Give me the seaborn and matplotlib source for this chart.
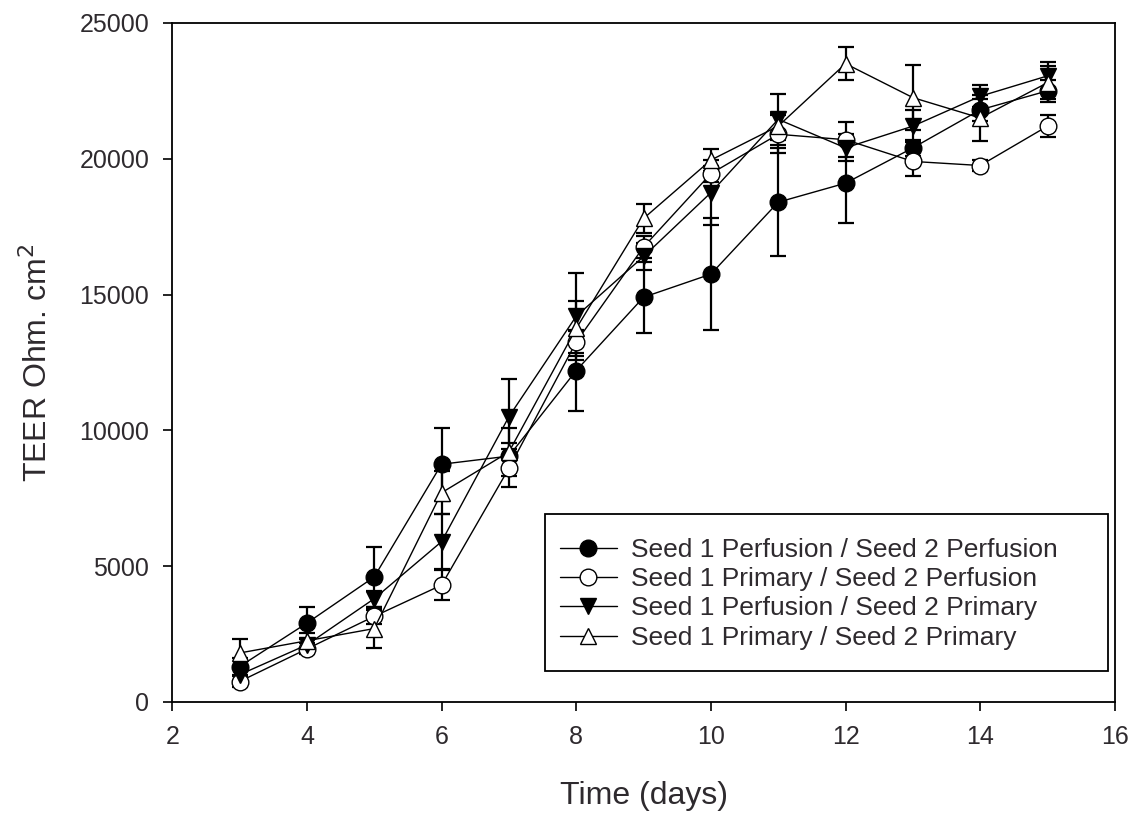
import matplotlib
matplotlib.use("Agg")
import matplotlib.pyplot as plt
import seaborn as sns
import numpy as np
import pandas as pd
from matplotlib.patches import Rectangle

days = [3, 4, 5, 6, 7, 8, 9, 10, 11, 12, 13, 14, 15]

labels = [
    "Seed 1 Perfusion / Seed 2 Perfusion",
    "Seed 1 Primary / Seed 2 Perfusion",
    "Seed 1 Perfusion / Seed 2 Primary",
    "Seed 1 Primary / Seed 2 Primary",
]

perf_perf = [1300, 2900, 4600, 8750, 9050, 12200, 14900, 15750, 18400, 19100, 20400, 21800, 22500]
perf_perf_err = [300, 600, 1100, 1350, 500, 1500, 1300, 2050, 2000, 1450, 300, 400, 400]

prim_perf = [750, 1950, 3150, 4300, 8600, 13250, 16750, 19450, 20900, 20700, 19900, 19750, 21200]
prim_perf_err = [200, 200, 300, 550, 700, 400, 400, 300, 700, 650, 550, 200, 400]

perf_prim = [1000, 2100, 3800, 5900, 10500, 14200, 16400, 18750, 21450, 20400, 21200, 22300, 23050]
perf_prim_err = [200, 200, 300, 1000, 1400, 1600, 500, 1200, 950, 500, 600, 400, 500]

prim_prim = [1800, 2250, 2700, 7700, 9200, 13750, 17800, 19950, 21200, 23500, 22250, 21500, 22800]
prim_prim_err = [500, 300, 700, 800, 900, 1000, 550, 400, 500, 600, 1200, 850, 600]

series_vals = [perf_perf, prim_perf, perf_prim, prim_prim]
series_errs = [perf_perf_err, prim_perf_err, perf_prim_err, prim_prim_err]
markers = ["o", "o", "v", "^"]
faces = ["black", "white", "black", "white"]

x_ticks = [2, 4, 6, 8, 10, 12, 14, 16]
y_ticks = [0, 5000, 10000, 15000, 20000, 25000]

sns.set_style("ticks")
plt.rcParams["font.family"] = ["Liberation Sans", "DejaVu Sans"]
txt_color = "#2e2a2e"

fig = plt.figure(figsize=(11.33, 8.19), dpi=100)
ax = fig.add_axes([0.152, 0.143, 0.832, 0.829])

for vals, errs, m, fc, lab in zip(series_vals, series_errs, markers, faces, labels):
    df = pd.DataFrame({"day": days, "teer": vals})
    ax.errorbar(days, vals, yerr=errs, fmt="none", ecolor="black",
                elinewidth=1.6, capsize=6, capthick=1.6, zorder=2)
    sns.lineplot(data=df, x="day", y="teer", ax=ax, color="black", linewidth=1.0,
                 marker=m, markersize=12, markerfacecolor=fc, markeredgecolor="black",
                 markeredgewidth=1.0, label=lab, sort=False, zorder=3)

ax.set_xlim(2, 16)
ax.set_ylim(0, 25000)
ax.set_xticks(x_ticks)
ax.set_yticks(y_ticks)
ax.tick_params(axis="both", direction="out", length=6.5, width=1.2, labelsize=18,
               colors="black", pad=10)
ax.tick_params(axis="both", labelcolor=txt_color)
for s in ax.spines.values():
    s.set_linewidth(1.3)
    s.set_color("black")
    s.set_visible(True)

ax.set_xlabel("Time (days)", fontsize=23, color=txt_color, labelpad=23)
ax.set_ylabel("TEER Ohm. cm$^2$", fontsize=23, color=txt_color, labelpad=18)

leg = ax.legend(loc="upper left", bbox_to_anchor=(0.4115, 0.2415), frameon=False,
                fontsize=19, handlelength=2.15, handletextpad=0.55, labelspacing=0.2,
                borderaxespad=0.0, borderpad=0.0)
for t in leg.get_texts():
    t.set_color(txt_color)

ax.add_patch(Rectangle((0.3955, 0.0457), 0.597, 0.231, transform=ax.transAxes,
                       fill=False, edgecolor="black", linewidth=1.3, zorder=5))

fig.savefig("out.png", dpi=100)
